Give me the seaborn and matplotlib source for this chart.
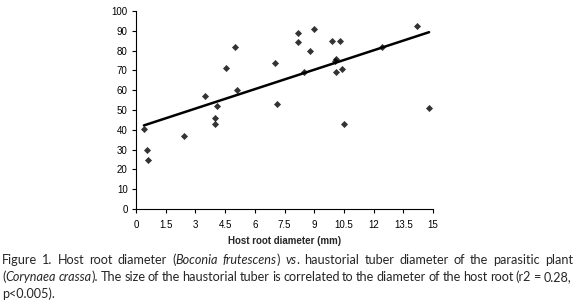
import matplotlib
matplotlib.use("Agg")
import matplotlib.pyplot as plt
import seaborn as sns
import pandas as pd
import re

host_root_mm = [0.4, 0.54, 0.62, 2.4, 3.5, 4.0, 4.0, 4.1, 4.55, 5.0, 5.1,
                7.0, 7.1, 8.2, 8.2, 8.5, 8.8, 9.0, 9.9, 10.05, 10.1, 10.1,
                10.3, 10.4, 10.5, 12.4, 14.2, 14.8]
tuber_mm = [40.5, 30.0, 25.0, 36.7, 57.3, 45.8, 42.8, 51.8, 71.3, 82.0, 60.0,
            73.8, 53.0, 88.7, 84.2, 69.3, 79.7, 90.7, 84.8, 75.0, 76.0, 69.3,
            85.0, 70.6, 42.8, 82.0, 92.6, 51.0]
x_ticks = [0, 1.5, 3, 4.5, 6, 7.5, 9, 10.5, 12, 13.5, 15]
x_tick_labels = ["0", "1.5", "3", "4.5", "6", "7.5", "9", "10.5", "12", "13.5", "15"]
y_ticks = [0, 10, 20, 30, 40, 50, 60, 70, 80, 90, 100]

df = pd.DataFrame({"x": host_root_mm, "y": tuber_mm})

sns.set_theme(style="ticks")
plt.rcParams["font.family"] = ["Liberation Sans", "DejaVu Sans"]

fig = plt.figure(figsize=(5.77, 3.07), dpi=100)
ax = fig.add_axes([136 / 577, 1 - 209 / 307, (433 - 136) / 577, (209 - 11) / 307])

sns.regplot(data=df, x="x", y="y", ax=ax, ci=None, truncate=True, marker="D",
            scatter_kws=dict(s=13, color="black", linewidths=0),
            line_kws=dict(color="black", lw=1.8))

ax.set_xlim(0, 15)
ax.set_ylim(0, 100)
ax.set_xticks(x_ticks)
ax.set_xticklabels(x_tick_labels)
ax.set_yticks(y_ticks)
ax.tick_params(axis="both", labelsize=7, length=3, width=0.8, colors="black",
               direction="out")
ax.tick_params(axis="x", pad=5)
ax.tick_params(axis="y", pad=3)
for s in ["top", "right"]:
    ax.spines[s].set_visible(False)
for s in ["left", "bottom"]:
    ax.spines[s].set_color("black")
    ax.spines[s].set_linewidth(0.8)
ax.set_ylabel("")
ax.set_xlabel("Host root diameter (mm)", fontsize=7, fontweight="bold", labelpad=4)

cap_font = ["Lato", "DejaVu Sans"]
FS = 9.1
renderer = fig.canvas.get_renderer()


def text_width(txt, style):
    t = fig.text(0, 0, txt, family=cap_font, fontsize=FS, style=style)
    w = t.get_window_extent(renderer=renderer).width
    t.remove()
    return w


space_w = text_width("a a", "normal") - text_width("aa", "normal")


def line(parts, y, target=None):
    # tokens: (text, style, space_after)
    tokens = []
    for txt, style in parts:
        pieces = re.split(r"( )", txt)
        for p in pieces:
            if p == " ":
                if tokens:
                    tokens[-1][2] = True
            elif p:
                tokens.append([p, style, False])
    widths = [text_width(t[0], t[1]) for t in tokens]
    n_sp = sum(1 for t in tokens if t[2])
    natural = sum(widths) + n_sp * space_w
    extra = 0 if (target is None or n_sp == 0) else (target - 2 - natural) / n_sp
    xpos = 2
    for (txt, style, sp), w in zip(tokens, widths):
        fig.text(xpos / 577, 1 - y / 307, txt, family=cap_font, fontsize=FS,
                 style=style, va="center")
        xpos += w + (space_w + extra if sp else 0)


line([("Figure 1. Host root diameter (", "normal"), ("Boconia frutescens", "italic"),
      (") ", "normal"), ("vs", "italic"),
      (". haustorial tuber diameter of the parasitic plant", "normal")], 260, target=573)
line([("(", "normal"), ("Corynaea crassa", "italic"),
      ("). The size of the haustorial tuber is correlated to the diameter of the host root (r2 = 0.28,", "normal")], 277, target=571)
line([("p<0.005).", "normal")], 294)

fig.savefig("out.png", dpi=100)
